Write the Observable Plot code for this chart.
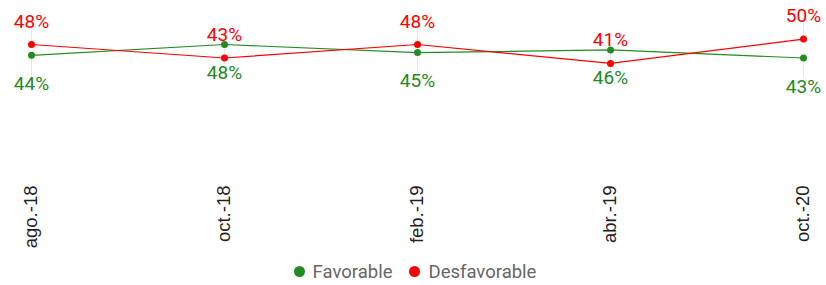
<!DOCTYPE html>
<html>
<head>
<meta charset="utf-8">
<script src="https://cdn.jsdelivr.net/npm/d3@7"></script>
<script src="https://cdn.jsdelivr.net/npm/@observablehq/plot@0.6"></script>
<style>
  html, body { margin: 0; padding: 0; background: #fff; }
  #chart svg { display: block; }
  .legend { height: 27px; display: flex; justify-content: center; align-items: center; gap: 17px;
    font-family: Roboto, sans-serif; font-size: 18.5px; color: #666; padding-left: 4px; }
  .legend span.item { display: flex; align-items: center; }
  .legend span.dot { width: 11px; height: 11px; border-radius: 50%; display: inline-block; margin-right: 8px; }
</style>
</head>
<body>
<div id="chart"></div>
<script>
const fechas = ["ago.-18", "oct.-18", "feb.-19", "abr.-19", "oct.-20"];
const favorable = [44, 48, 45, 46, 43];
const desfavorable = [48, 43, 48, 41, 50];
const series = ["Favorable", "Desfavorable"];
const colores = ["#228B22", "#FF0000"];

const fav = fechas.map((f, i) => ({fecha: f, valor: favorable[i], serie: series[0]}));
const des = fechas.map((f, i) => ({fecha: f, valor: desfavorable[i], serie: series[1]}));

const chart = Plot.plot({
  width: 826,
  height: 258,
  marginLeft: 31,
  marginRight: 23,
  marginTop: 0,
  marginBottom: 75,
  style: {fontFamily: "Roboto, sans-serif", background: "#fff"},
  x: {type: "point", domain: fechas, range: [31, 803], padding: 0},
  y: {domain: [40, 50], range: [65.6, 38.6], axis: null},
  color: {domain: series, range: colores},
  marks: [
    Plot.ruleX(des, {x: "fecha", y1: "valor", y2: "valor", stroke: "#e6e6e6", strokeWidth: 1, insetTop: -16, insetBottom: 3}),
    Plot.ruleX(fav, {x: "fecha", y1: "valor", y2: "valor", stroke: "#e6e6e6", strokeWidth: 1, insetTop: 3, insetBottom: -20}),
    Plot.line(fav, {x: "fecha", y: "valor", stroke: colores[0], strokeWidth: 1.2}),
    Plot.line(des, {x: "fecha", y: "valor", stroke: colores[1], strokeWidth: 1.2}),
    Plot.dot(fav, {x: "fecha", y: "valor", fill: colores[0], r: 3.5}),
    Plot.dot(des, {x: "fecha", y: "valor", fill: colores[1], r: 3.5}),
    Plot.text(des, {x: "fecha", y: "valor", text: d => d.valor + "%", fill: colores[1], fontSize: 19, lineAnchor: "bottom", dy: -17}),
    Plot.text(fav, {x: "fecha", y: "valor", text: d => d.valor + "%", fill: colores[0], fontSize: 19, lineAnchor: "top", dy: 21}),
    Plot.axisX({tickSize: 0, tickPadding: 2, tickRotate: -90, fontSize: 18.5, fontFamily: "'Liberation Sans', Arial, sans-serif", fill: "#222", label: null})
  ]
});
document.getElementById("chart").appendChild(chart);

const legend = document.createElement("div");
legend.className = "legend";
series.forEach((s, i) => {
  const item = document.createElement("span");
  item.className = "item";
  const dot = document.createElement("span");
  dot.className = "dot";
  dot.style.background = colores[i];
  item.appendChild(dot);
  item.appendChild(document.createTextNode(s));
  legend.appendChild(item);
});
document.body.appendChild(legend);
</script>
</body>
</html>
